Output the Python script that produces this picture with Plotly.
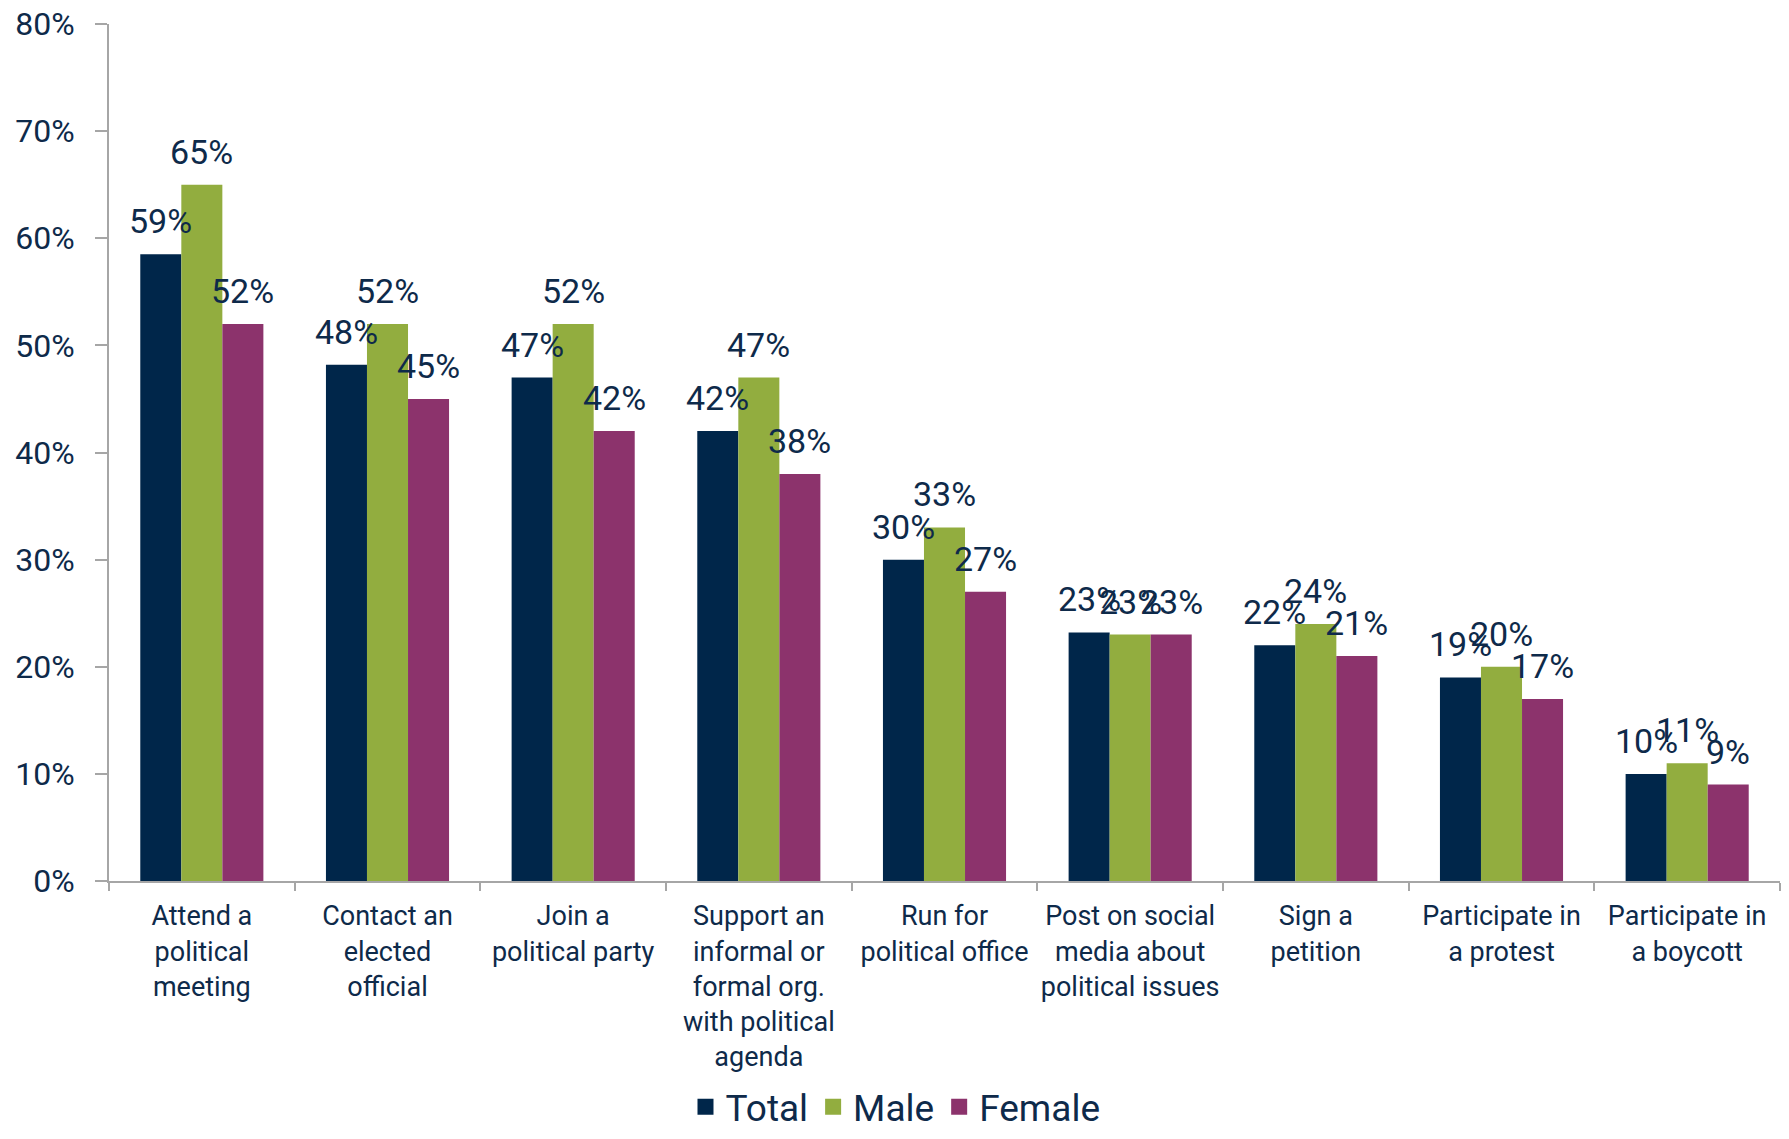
import math
import plotly.graph_objects as go

categories = [
    "Attend a<br>political<br>meeting",
    "Contact an<br>elected<br>official",
    "Join a<br>political party",
    "Support an<br>informal or<br>formal org.<br>with political<br>agenda",
    "Run for<br>political office",
    "Post on social<br>media about<br>political issues",
    "Sign a<br>petition",
    "Participate in<br>a protest",
    "Participate in<br>a boycott",
]
total = [58.5, 48.2, 47, 42, 30, 23.2, 22, 19, 10]
male = [65, 52, 52, 47, 33, 23, 24, 20, 11]
female = [52, 45, 42, 38, 27, 23, 21, 17, 9]
series_names = ["Total", "Male", "Female"]
y_ticks = [0, 10, 20, 30, 40, 50, 60, 70, 80]
y_tick_labels = ["0%", "10%", "20%", "30%", "40%", "50%", "60%", "70%", "80%"]

colors = ["#00264A", "#92AD3F", "#8C336C"]
text_color = "#0E2A4A"
axis_color = "#A6A6A6"
font_family = "Roboto, Lato, sans-serif"

# page body has an 8px margin; size the figure so it fits the window exactly
W, H = 1789 - 16, 1139 - 16
ML, MR, MT, MB = 101, 1, 16, 250

fig = go.Figure()
for name, vals, col in zip(series_names, [total, male, female], colors):
    fig.add_trace(go.Bar(
        x=categories, y=vals, name=name, showlegend=False,
        marker=dict(color=col, line=dict(width=0)),
    ))
# legend proxies with larger square swatches
for name, col in zip(series_names, colors):
    fig.add_trace(go.Scatter(
        x=[None], y=[None], mode="markers", name=name,
        marker=dict(symbol="square", size=19, color=col),
    ))

# Data labels
plot_w = W - ML - MR
bargap = 0.337
bar_px = plot_w / len(categories) * (1 - bargap) / 3
shifts = [-bar_px, 0, bar_px]
for vals, sh in zip([total, male, female], shifts):
    for c, v in zip(categories, vals):
        fig.add_annotation(
            x=c, y=v, text=f"{math.floor(v + 0.5)}%",
            xref="x", yref="y", xshift=sh, yshift=11,
            yanchor="bottom", xanchor="center", showarrow=False,
            font=dict(family=font_family, size=34, color=text_color),
        )

fig.update_layout(
    width=W, height=H,
    margin=dict(l=ML, r=MR, t=MT, b=MB, pad=0, autoexpand=False),
    plot_bgcolor="white", paper_bgcolor="white",
    barmode="group", bargap=bargap, bargroupgap=0,
    font=dict(family=font_family, color=text_color),
    legend=dict(
        orientation="h", x=0.345, xanchor="left", y=-0.264, yanchor="middle",
        font=dict(size=37, color=text_color), itemwidth=30,
        traceorder="normal",
    ),
)
fig.update_yaxes(
    range=[0, 80], tickvals=y_ticks, ticktext=y_tick_labels,
    showgrid=False, zeroline=False, automargin=False,
    showline=True, linecolor=axis_color, linewidth=2,
    ticks="outside", ticklen=12, tickcolor=axis_color, tickwidth=2,
    tickfont=dict(size=32, color=text_color, family=font_family),
    ticklabelstandoff=14, ticklabeloverflow="allow",
)
fig.update_xaxes(
    showgrid=False, showline=True, linecolor=axis_color, linewidth=2,
    automargin=False, tickangle=0,
    ticks="outside", tickson="boundaries", ticklen=8, tickcolor=axis_color, tickwidth=2,
    tickfont=dict(size=27, color=text_color, family=font_family),
    ticklabelstandoff=10,
)

fig.write_html("out.html")
